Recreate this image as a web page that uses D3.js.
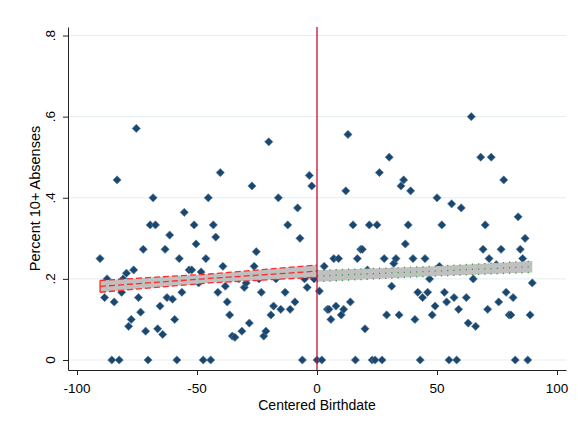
<!DOCTYPE html>
<html>
<head>
<meta charset="utf-8">
<script src="https://cdn.jsdelivr.net/npm/d3@7"></script>
<style>
  html, body { margin: 0; padding: 0; background: #ffffff; }
  svg { display: block; }
  text { font-family: "Liberation Sans", Arial, sans-serif; fill: #000; }
</style>
</head>
<body>
<svg id="chart" width="578" height="426"></svg>
<script>
// ---- data ----
const xTicks = [-100, -50, 0, 50, 100];
const xTickLabels = ["-100", "-50", "0", "50", "100"];
const yTicks = [0, 0.2, 0.4, 0.6, 0.8];
const yTickLabels = ["0", ".2", ".4", ".6", ".8"];
const xTitle = "Centered Birthdate";
const yTitle = "Percent 10+ Absenses";
const cutoff = 0;

const leftX = [-90.4, -88.5, -87.5, -85.5, -84.5, -83.3, -82.4, -81.4, -80.8, -79.4, -78.5, -77.4, -76.4, -75.3, -74.4, -73.5, -72.4, -71.4, -70.4, -69.5, -68.3, -67.3, -66.4, -65.4, -64.3, -63.3, -62.5, -61.4, -60.2, -59.3, -58.4, -57.4, -56.3, -55.3, -53.3, -52.2, -51.2, -50.4, -49.3, -48.3, -47.4, -46.3, -45.3, -44.3, -43.2, -42.2, -41.3, -40.3, -39.2, -38.2, -37.4, -36.4, -35.3, -34.2, -32.6, -31.3, -30.3, -29.5, -28.2, -27.1, -26.2, -25.3, -24.2, -23.2, -22.2, -21.3, -20.1, -19.2, -18.1, -17.1, -16.1, -15.1, -13.3, -12.2, -11.2, -9.2, -8.1, -7.1, -6.1, -5.2, -4.1, -3.2, -2.2, -1.2];
const leftY = [0.25, 0.154, 0.2, 0, 0.143, 0.444, 0, 0.167, 0.2, 0.214, 0.083, 0.1, 0.222, 0.571, 0.154, 0.118, 0.273, 0.071, 0, 0.333, 0.4, 0.333, 0.077, 0.133, 0.063, 0.273, 0.154, 0.308, 0.15, 0.1, 0, 0.25, 0.167, 0.364, 0.222, 0.222, 0.333, 0.286, 0.19, 0.217, 0, 0.25, 0.4, 0, 0.333, 0.303, 0.167, 0.462, 0.231, 0.182, 0.143, 0.111, 0.059, 0.056, 0.2, 0.071, 0.179, 0.19, 0.091, 0.429, 0.231, 0.267, 0.2, 0.167, 0.059, 0.071, 0.538, 0.111, 0.133, 0.2, 0.4, 0.125, 0.167, 0.333, 0.125, 0.143, 0.375, 0.3, 0, 0.2, 0.179, 0.455, 0.429, 0.2];

const rightX = [0, 1, 2, 3, 4.3, 5, 5.8, 7, 7.9, 9, 10.1, 11.1, 12, 12.9, 13.9, 15, 16, 16.8, 18.2, 18.9, 20, 21, 21.8, 23, 24.2, 25, 26, 27.1, 28, 29, 30.1, 31.1, 32, 32.9, 34.2, 35, 36.1, 36.8, 38, 39, 40, 40.8, 42, 43, 44, 45, 46.1, 46.9, 48, 49.2, 50, 51, 52, 53.1, 54, 55, 56.1, 57.1, 58.2, 59, 60.1, 62.2, 63, 64.3, 65.1, 66.1, 68.2, 69.2, 70.1, 71.1, 71.7, 72.6, 74.7, 75.7, 76.7, 77.8, 78.8, 80, 80.8, 81.7, 82.6, 83.8, 84.7, 85.7, 86.7, 87.8, 88.8, 89.7];
const rightY = [0, 0.17, 0, 0.231, 0.125, 0.125, 0.1, 0.25, 0.133, 0.25, 0.111, 0.125, 0.417, 0.556, 0.143, 0.333, 0, 0.25, 0.273, 0.273, 0.077, 0.222, 0.333, 0, 0, 0.333, 0.462, 0, 0.25, 0.111, 0.5, 0.182, 0.238, 0.25, 0.111, 0.429, 0.444, 0.286, 0.333, 0.417, 0.25, 0.1, 0.167, 0, 0.154, 0.25, 0.167, 0.2, 0.111, 0.133, 0.4, 0.231, 0.333, 0.167, 0.143, 0, 0.385, 0.154, 0, 0.125, 0.375, 0.154, 0.091, 0.6, 0.2, 0.083, 0.5, 0.273, 0.333, 0.125, 0.25, 0.5, 0.235, 0.143, 0.273, 0.444, 0.167, 0.111, 0.111, 0.154, 0, 0.353, 0.273, 0.25, 0.3, 0, 0.111, 0.19];

// linear fits with confidence bands (left and right of cutoff)
const leftFitX = [-90.4, -45, 0];
const leftFitLo = [0.167, 0.190, 0.204];
const leftFitHi = [0.196, 0.212, 0.234];
const leftFitMid = [0.1815, 0.201, 0.219];

const rightFitX = [0, 45, 89.7];
const rightFitLo = [0.193, 0.206, 0.216];
const rightFitHi = [0.221, 0.230, 0.244];
const rightFitMid = [0.207, 0.218, 0.230];

// ---- drawing ----
const svg = d3.select("#chart");
const x = d3.scaleLinear().domain([-103.75, 103.75]).range([68, 566]);
const y = d3.scaleLinear().domain([-0.02466, 0.821]).range([370, 27]);

// gridlines
svg.append("g").selectAll("line").data(yTicks).join("line")
  .attr("x1", x.range()[0]).attr("x2", x.range()[1])
  .attr("y1", d => y(d)).attr("y2", d => y(d))
  .attr("stroke", "#e4edf1").attr("stroke-width", 1);

// points
const diamond = d3.symbol().type(d3.symbolSquare).size(34);
const pts = leftX.map((v, i) => [v, leftY[i]]).concat(rightX.map((v, i) => [v, rightY[i]]));
svg.append("g").selectAll("path").data(pts).join("path")
  .attr("d", diamond)
  .attr("transform", d => `translate(${x(d[0])},${y(d[1])}) rotate(45)`)
  .attr("fill", "#1a476f")
  .attr("stroke", "#5b7d9c").attr("stroke-width", 0.6);

function band(xs, lo, hi, mid, lineColor, dash) {
  const data = xs.map((v, i) => ({ x: v, lo: lo[i], hi: hi[i], mid: mid[i] }));
  const area = d3.area().x(d => x(d.x)).y0(d => y(d.lo)).y1(d => y(d.hi));
  svg.append("path").datum(data).attr("d", area).attr("fill", "#c0c0c0").attr("stroke", "none");
  const lHi = d3.line().x(d => x(d.x)).y(d => y(d.hi));
  const lLo = d3.line().x(d => x(d.x)).y(d => y(d.lo));
  const lMid = d3.line().x(d => x(d.x)).y(d => y(d.mid));
  [lHi, lLo, lMid].forEach(l => {
    svg.append("path").datum(data).attr("d", l)
      .attr("fill", "none").attr("stroke", lineColor)
      .attr("stroke-width", 1.3).attr("stroke-dasharray", dash);
  });
  return data;
}
const ld = band(leftFitX, leftFitLo, leftFitHi, leftFitMid, "#ff2a2a", "6,3");
// closing edge at left end of left band
svg.append("line")
  .attr("x1", x(ld[0].x)).attr("x2", x(ld[0].x))
  .attr("y1", y(ld[0].lo)).attr("y2", y(ld[0].hi))
  .attr("stroke", "#ff2a2a").attr("stroke-width", 1.3);
band(rightFitX, rightFitLo, rightFitHi, rightFitMid, "#3c9a3c", "1.2,5");

// cutoff line
svg.append("line")
  .attr("x1", x(cutoff)).attr("x2", x(cutoff))
  .attr("y1", y.range()[1]).attr("y2", y.range()[0])
  .attr("stroke", "#c8102e").attr("stroke-width", 1.3);

// axes
const xAxis = d3.axisBottom(x).tickValues(xTicks).tickSizeInner(5).tickSizeOuter(0).tickFormat("");
const gx = svg.append("g").attr("transform", `translate(0,${y.range()[0]})`).call(xAxis);
gx.select(".domain").attr("stroke", "#222");
gx.selectAll(".tick line").attr("stroke", "#222");

const yAxis = d3.axisLeft(y).tickValues(yTicks).tickSizeInner(5).tickSizeOuter(0).tickFormat("");
const gy = svg.append("g").attr("transform", `translate(${x.range()[0]},0)`).call(yAxis);
gy.select(".domain").attr("stroke", "#222");
gy.selectAll(".tick line").attr("stroke", "#222");

// tick labels
svg.append("g").selectAll("text").data(xTicks).join("text")
  .attr("x", d => x(d)).attr("y", 393)
  .attr("text-anchor", "middle").attr("font-size", 13.5)
  .text((d, i) => xTickLabels[i]);

svg.append("g").selectAll("text").data(yTicks).join("text")
  .attr("transform", d => `translate(55,${y(d)}) rotate(-90)`)
  .attr("text-anchor", "middle").attr("font-size", 13.5)
  .text((d, i) => yTickLabels[i]);

// titles
svg.append("text").attr("x", (x.range()[0] + x.range()[1]) / 2).attr("y", 410)
  .attr("text-anchor", "middle").attr("font-size", 14).text(xTitle);
svg.append("text")
  .attr("transform", `translate(40,${(y.range()[0] + y.range()[1]) / 2}) rotate(-90)`)
  .attr("text-anchor", "middle").attr("font-size", 14.5).text(yTitle);
</script>
</body>
</html>
